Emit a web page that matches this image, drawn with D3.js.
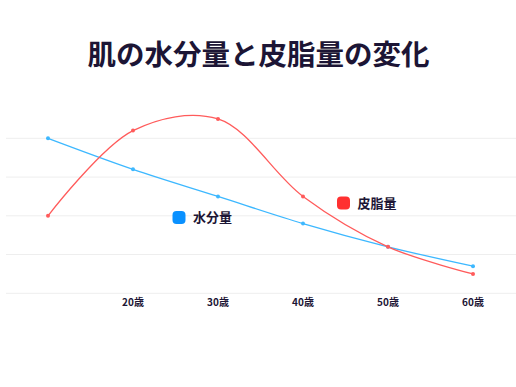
<!DOCTYPE html>
<html>
<head>
<meta charset="utf-8">
<script src="https://cdn.jsdelivr.net/npm/d3@7"></script>
<style>
  body { margin: 0; background: #fff; }
  text { font-family: "Noto Sans CJK JP", "Noto Sans", sans-serif; }
</style>
</head>
<body>
<svg id="my-svg"></svg>
<script>
const ages = ["10歳", "20歳", "30歳", "40歳", "50歳", "60歳"];
const tickLabels = ["", "20歳", "30歳", "40歳", "50歳", "60歳"];
const water = [80, 64, 50, 36, 24, 14];
const sebum = [40, 84, 90, 50, 24, 10];
const gridValues = [0, 20, 40, 60, 80];

const width = 516, height = 387;

const svg = d3.select("#my-svg")
    .attr("width", width)
    .attr("height", height);

const x = d3.scalePoint()
    .domain(ages)
    .range([48, 473]);

const y = d3.scaleLinear()
    .domain([0, 100])
    .range([293.3, 99.6]);

// grid
svg.append("g")
    .selectAll("line")
    .data(gridValues)
    .join("line")
      .attr("x1", 6)
      .attr("x2", width)
      .attr("y1", d => y(d))
      .attr("y2", d => y(d))
      .attr("stroke", "#eeeeee")
      .attr("stroke-width", 1);

// x labels
svg.append("g")
    .selectAll("text")
    .data(ages)
    .join("text")
      .attr("x", d => x(d))
      .attr("y", 305.5)
      .attr("text-anchor", "middle")
      .style("font-size", "10px")
      .style("font-weight", "bold")
      .style("fill", "#1c1535")
      .text((d, i) => tickLabels[i]);

const series = [
  { name: "水分量", values: water, color: "#3db8ff", legend: "#0a91ff" },
  { name: "皮脂量", values: sebum, color: "#ff5b5b", legend: "#ff3030" }
];

const line = d3.line()
    .x((d, i) => x(ages[i]))
    .y(d => y(d))
    .curve(d3.curveCatmullRom.alpha(0.5));

series.forEach(s => {
  svg.append("path")
      .datum(s.values)
      .attr("d", line)
      .attr("fill", "none")
      .attr("stroke", s.color)
      .attr("stroke-width", 1.3);

  svg.append("g")
    .selectAll("circle")
    .data(s.values)
    .join("circle")
      .attr("cx", (d, i) => x(ages[i]))
      .attr("cy", d => y(d))
      .attr("r", 2)
      .style("fill", s.color);
});

// legends placed by hand near the lines
const legendPos = [[172.5, 211], [337, 196.5]];
series.forEach((s, i) => {
  const g = svg.append("g")
      .attr("transform", `translate(${legendPos[i][0]},${legendPos[i][1]})`);
  g.append("rect")
      .attr("width", 13)
      .attr("height", 13)
      .attr("rx", 4)
      .style("fill", s.legend);
  g.append("text")
      .attr("x", 20.5)
      .attr("y", 11.3)
      .style("font-size", "13px")
      .style("font-weight", "bold")
      .style("fill", "#1c1535")
      .text(s.name);
});

svg.append("text")
    .attr("x", width / 2 + 0.5)
    .attr("y", 65)
    .attr("text-anchor", "middle")
    .style("font-size", "28.5px")
    .style("font-weight", "bold")
    .style("fill", "#1c1535")
    .text("肌の水分量と皮脂量の変化");
</script>
</body>
</html>
